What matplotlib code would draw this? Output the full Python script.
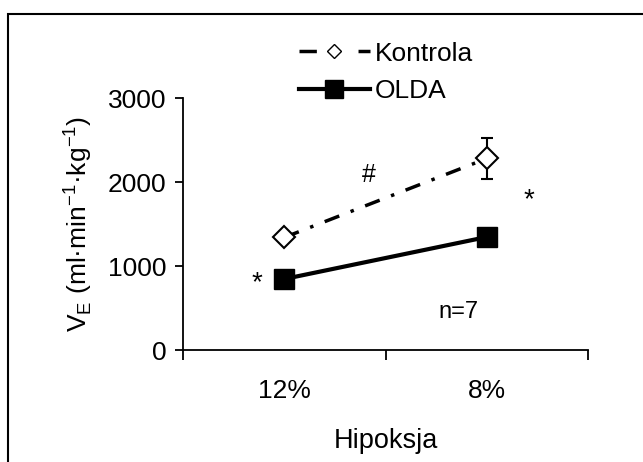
import matplotlib.pyplot as plt
from matplotlib.lines import Line2D
from matplotlib.patches import Rectangle

plt.rcParams['font.family'] = ['Liberation Sans', 'DejaVu Sans']

kategorie = ["12%", "8%"]
kontrola = [1340, 2280]
kontrola_err = [60, 240]
olda = [845, 1345]

fig = plt.figure(figsize=(6.43, 4.62), dpi=100)
ax = fig.add_axes([183/643, 1 - 350/462, (588 - 183)/643, (350 - 98)/462])

x = [0, 1]
dash_dot = (0, (4.5, 3.5, 1, 3.5))

ax.plot(x, olda, color='black', lw=3, marker='s', ms=15, zorder=3)
ax.errorbar(x, kontrola, yerr=kontrola_err, color='black', lw=2.5, ls=dash_dot,
            marker='D', ms=11.5, mfc='white', mec='black', mew=1.5,
            ecolor='black', elinewidth=1.5, capsize=4.5, capthick=1.5, zorder=4)

ax.set_xlim(-0.5, 1.5)
ax.set_ylim(0, 3000)
ax.set_yticks([0, 1000, 2000, 3000])
ax.set_xticks([-0.5, 0.5, 1.5])
ax.set_xticklabels([])
ax.set_xticks(x, minor=True)
ax.set_xticklabels(kategorie, minor=True)
ax.tick_params(axis='x', which='minor', length=0, pad=21, labelsize=19)
ax.tick_params(axis='x', which='major', direction='out', length=7, width=1.3)
ax.tick_params(axis='y', direction='out', length=6, width=1.3, labelsize=19, pad=6)

for s in ['top', 'right']:
    ax.spines[s].set_visible(False)
for s in ['left', 'bottom']:
    ax.spines[s].set_linewidth(1.3)

ax.set_xlabel("Hipoksja", fontsize=19.5, labelpad=18)
ax.set_ylabel(r"V$_\mathregular{E}$ (ml·min$^\mathregular{-1}$·kg$^\mathregular{-1}$)", fontsize=19, labelpad=10)

ax.text(0.42, 2083, "#", fontsize=18, ha='center', va='center')
ax.text(1.21, 1780, "*", fontsize=20, ha='center', va='center')
ax.text(-0.134, 800, "*", fontsize=20, ha='center', va='center')
ax.text(0.86, 450, "n=7", fontsize=17, ha='center', va='center')

uchwyty = [
    Line2D([], [], color='black', lw=2.5, ls=(0, (5, 12)), marker='D', ms=7,
           mfc='white', mec='black', mew=1),
    Line2D([], [], color='black', lw=3, marker='s', ms=13),
]
fig.legend(uchwyty, ["Kontrola", "OLDA"], loc='upper left',
           bbox_to_anchor=(288/643, 1 - 31/462), frameon=False, fontsize=19,
           handlelength=2.7, handletextpad=0.2, labelspacing=0.52, borderaxespad=0)

fig.patches.append(Rectangle((8/643, -0.1), 1.2, 0.1 + (1 - 14/462),
                             transform=fig.transFigure, fill=False,
                             edgecolor='black', lw=1.5, clip_on=False))

fig.savefig("out.png", dpi=100)
